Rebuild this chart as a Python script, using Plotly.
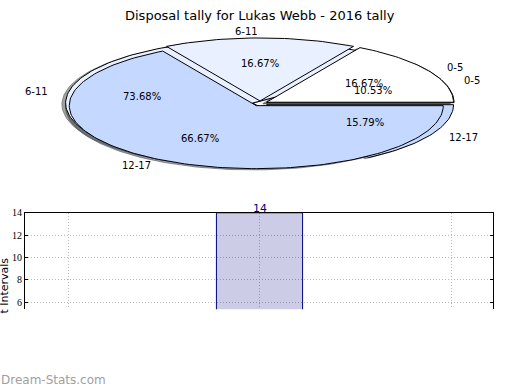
import math
import plotly.graph_objects as go

# ---------------- data ----------------
categories = ["0-5", "6-11", "12-17"]
pie_front_values = [1, 1, 4]      # 16.67% / 16.67% / 66.67%
pie_back_values = [2, 14, 3]      # 10.53% / 73.68% / 15.79%
bar_values = [2, 14, 3]
slice_colors = ["#ffffff", "#e9f0ff", "#c5d8ff"]
y_tick_values = [6, 8, 10, 12, 14]
title_text = "Disposal tally for Lukas Webb - 2016 tally"
y_label_visible = "t Intervals"
watermark = "Dream-Stats.com"

# ---------------- geometry (pixels) ----------------
W, H = 520, 390
CX, CY = 260, 99          # pie centre
RX, RY = 187, 64          # squashed pie radii
EXPLODE = 0.04
SHADOW = -0.02
BAR_L, BAR_R, BAR_T, BAR_B = 25, 493, 210, 308
FONT = "DejaVu Sans"


def hex_rgb(h):
    h = h.lstrip("#")
    return tuple(int(h[i:i + 2], 16) for i in (0, 2, 4))


def wedge_specs(values):
    total = float(sum(values))
    out = []
    start = 0.0
    for v in values:
        frac = v / total
        t1, t2 = start, start + frac
        tm = math.pi * (t1 + t2)
        out.append((2 * math.pi * t1, 2 * math.pi * t2, tm, frac))
        start = t2
    return out


def wedge_poly(t1, t2, tm, dx=0.0, dy=0.0):
    ox = EXPLODE * math.cos(tm) + dx
    oy = EXPLODE * math.sin(tm) + dy
    n = max(8, int((t2 - t1) / (2 * math.pi) * 240))
    xs = [ox]
    ys = [oy]
    for k in range(n + 1):
        t = t1 + (t2 - t1) * k / n
        xs.append(ox + math.cos(t))
        ys.append(oy + math.sin(t))
    xs.append(ox)
    ys.append(oy)
    return xs, ys


fig = go.Figure()
pies = [pie_back_values, pie_front_values]   # back pie drawn first

# shadows (below all wedges)
for vals in pies:
    for (t1, t2, tm, frac), col in zip(wedge_specs(vals), slice_colors):
        r, g, b = hex_rgb(col)
        sc = "rgba(%d,%d,%d,0.5)" % (int(r * 0.3), int(g * 0.3), int(b * 0.3))
        xs, ys = wedge_poly(t1, t2, tm, SHADOW, SHADOW)
        fig.add_trace(go.Scatter(x=xs, y=ys, mode="lines", fill="toself",
                                 fillcolor=sc, line=dict(color=sc, width=1),
                                 hoverinfo="skip", showlegend=False,
                                 xaxis="x", yaxis="y"))
# wedges
for vals in pies:
    for (t1, t2, tm, frac), col in zip(wedge_specs(vals), slice_colors):
        xs, ys = wedge_poly(t1, t2, tm)
        fig.add_trace(go.Scatter(x=xs, y=ys, mode="lines", fill="toself",
                                 fillcolor=col, line=dict(color="black", width=1),
                                 hoverinfo="skip", showlegend=False,
                                 xaxis="x", yaxis="y"))

annotations = []
for vals in pies:
    for (t1, t2, tm, frac), lab in zip(wedge_specs(vals), categories):
        ox, oy = EXPLODE * math.cos(tm), EXPLODE * math.sin(tm)
        c, s = math.cos(tm), math.sin(tm)
        annotations.append(dict(
            x=ox + 1.1 * c, y=oy + 1.1 * s, xref="x", yref="y", text=lab,
            showarrow=False, xanchor="left" if c > 1e-6 else "right",
            yanchor="middle", font=dict(family=FONT, size=10, color="black")))
        annotations.append(dict(
            x=ox + 0.6 * c, y=oy + 0.6 * s, xref="x", yref="y",
            text="%.2f%%" % (frac * 100), showarrow=False,
            xanchor="center", yanchor="middle",
            font=dict(family=FONT, size=10, color="black")))

# ---------------- bar chart ----------------
bar_x = list(range(len(categories)))
fig.add_trace(go.Bar(x=bar_x, y=bar_values, width=0.45,
                     marker=dict(color="rgba(0,0,128,0.2)",
                                 line=dict(color="navy", width=1)),
                     hoverinfo="skip", showlegend=False,
                     xaxis="x2", yaxis="y2"))

y_top = max(y_tick_values)
y_unit_px = 91 / 8.0
y_bottom = y_top - (BAR_B - BAR_T) / y_unit_px
cat_px = 191.5
x_left = -(68 - BAR_L) / cat_px
x_right = (len(categories) - 1) + (BAR_R - 451) / cat_px

for xi, v in zip(bar_x, bar_values):
    if v >= y_bottom:
        annotations.append(dict(x=xi, y=v, xref="x2", yref="y2", text=str(v),
                                showarrow=False, xanchor="center",
                                yanchor="bottom", yshift=-4,
                                font=dict(family=FONT, size=11, color="navy")))

annotations.append(dict(x=-4 / W, y=1 - 254 / H, xref="paper", yref="paper",
                        text=y_label_visible, textangle=-90, showarrow=False,
                        xanchor="left", yanchor="top",
                        font=dict(family=FONT, size=11, color="black")))
annotations.append(dict(x=0.5, y=1 - 10 / H, xref="paper", yref="paper",
                        text=title_text, showarrow=False, xanchor="center",
                        yanchor="middle",
                        font=dict(family=FONT, size=13, color="black")))
annotations.append(dict(x=-1 / W, y=1 - 380 / H, xref="paper", yref="paper",
                        text=watermark, showarrow=False, xanchor="left",
                        yanchor="middle",
                        font=dict(family=FONT, size=12, color="#a0a0a0")))

GRID = dict(showgrid=True, gridcolor="#b8b8b8", griddash="1px,2px",
            gridwidth=1, zeroline=False)

fig.update_layout(
    width=W, height=H, autosize=False,
    margin=dict(l=0, r=0, t=0, b=0),
    paper_bgcolor="white", plot_bgcolor="rgba(0,0,0,0)",
    showlegend=False,
    annotations=annotations,
    xaxis=dict(domain=[0, 1], range=[-CX / RX, (W - CX) / RX], visible=False,
               fixedrange=True),
    yaxis=dict(domain=[0, 1], range=[-(H - CY) / RY, CY / RY], visible=False,
               fixedrange=True),
    xaxis2=dict(domain=[BAR_L / W, BAR_R / W], anchor="y2", side="top",
                range=[x_left, x_right], tickvals=bar_x, showticklabels=False,
                ticks="", showline=True, linecolor="black", linewidth=1,
                mirror=False, fixedrange=True, **GRID),
    yaxis2=dict(domain=[1 - BAR_B / H, 1 - BAR_T / H], anchor="x2",
                range=[y_bottom, y_top], tickvals=y_tick_values,
                ticks="inside", ticklen=3, tickcolor="black",
                showline=True, linecolor="black", linewidth=1, mirror="ticks",
                fixedrange=True,
                tickfont=dict(family="Liberation Sans Narrow", size=10,
                              color="black"), **GRID),
)

fig.write_html("out.html",
               config={"displayModeBar": False, "staticPlot": True},
               post_script="document.body.style.margin='0';"
                           "document.body.style.overflow='hidden';"
                           "var gd=document.getElementById('{plot_id}');"
                           "gd.style.position='absolute';gd.style.top='0px';"
                           "gd.style.left='0px';")
